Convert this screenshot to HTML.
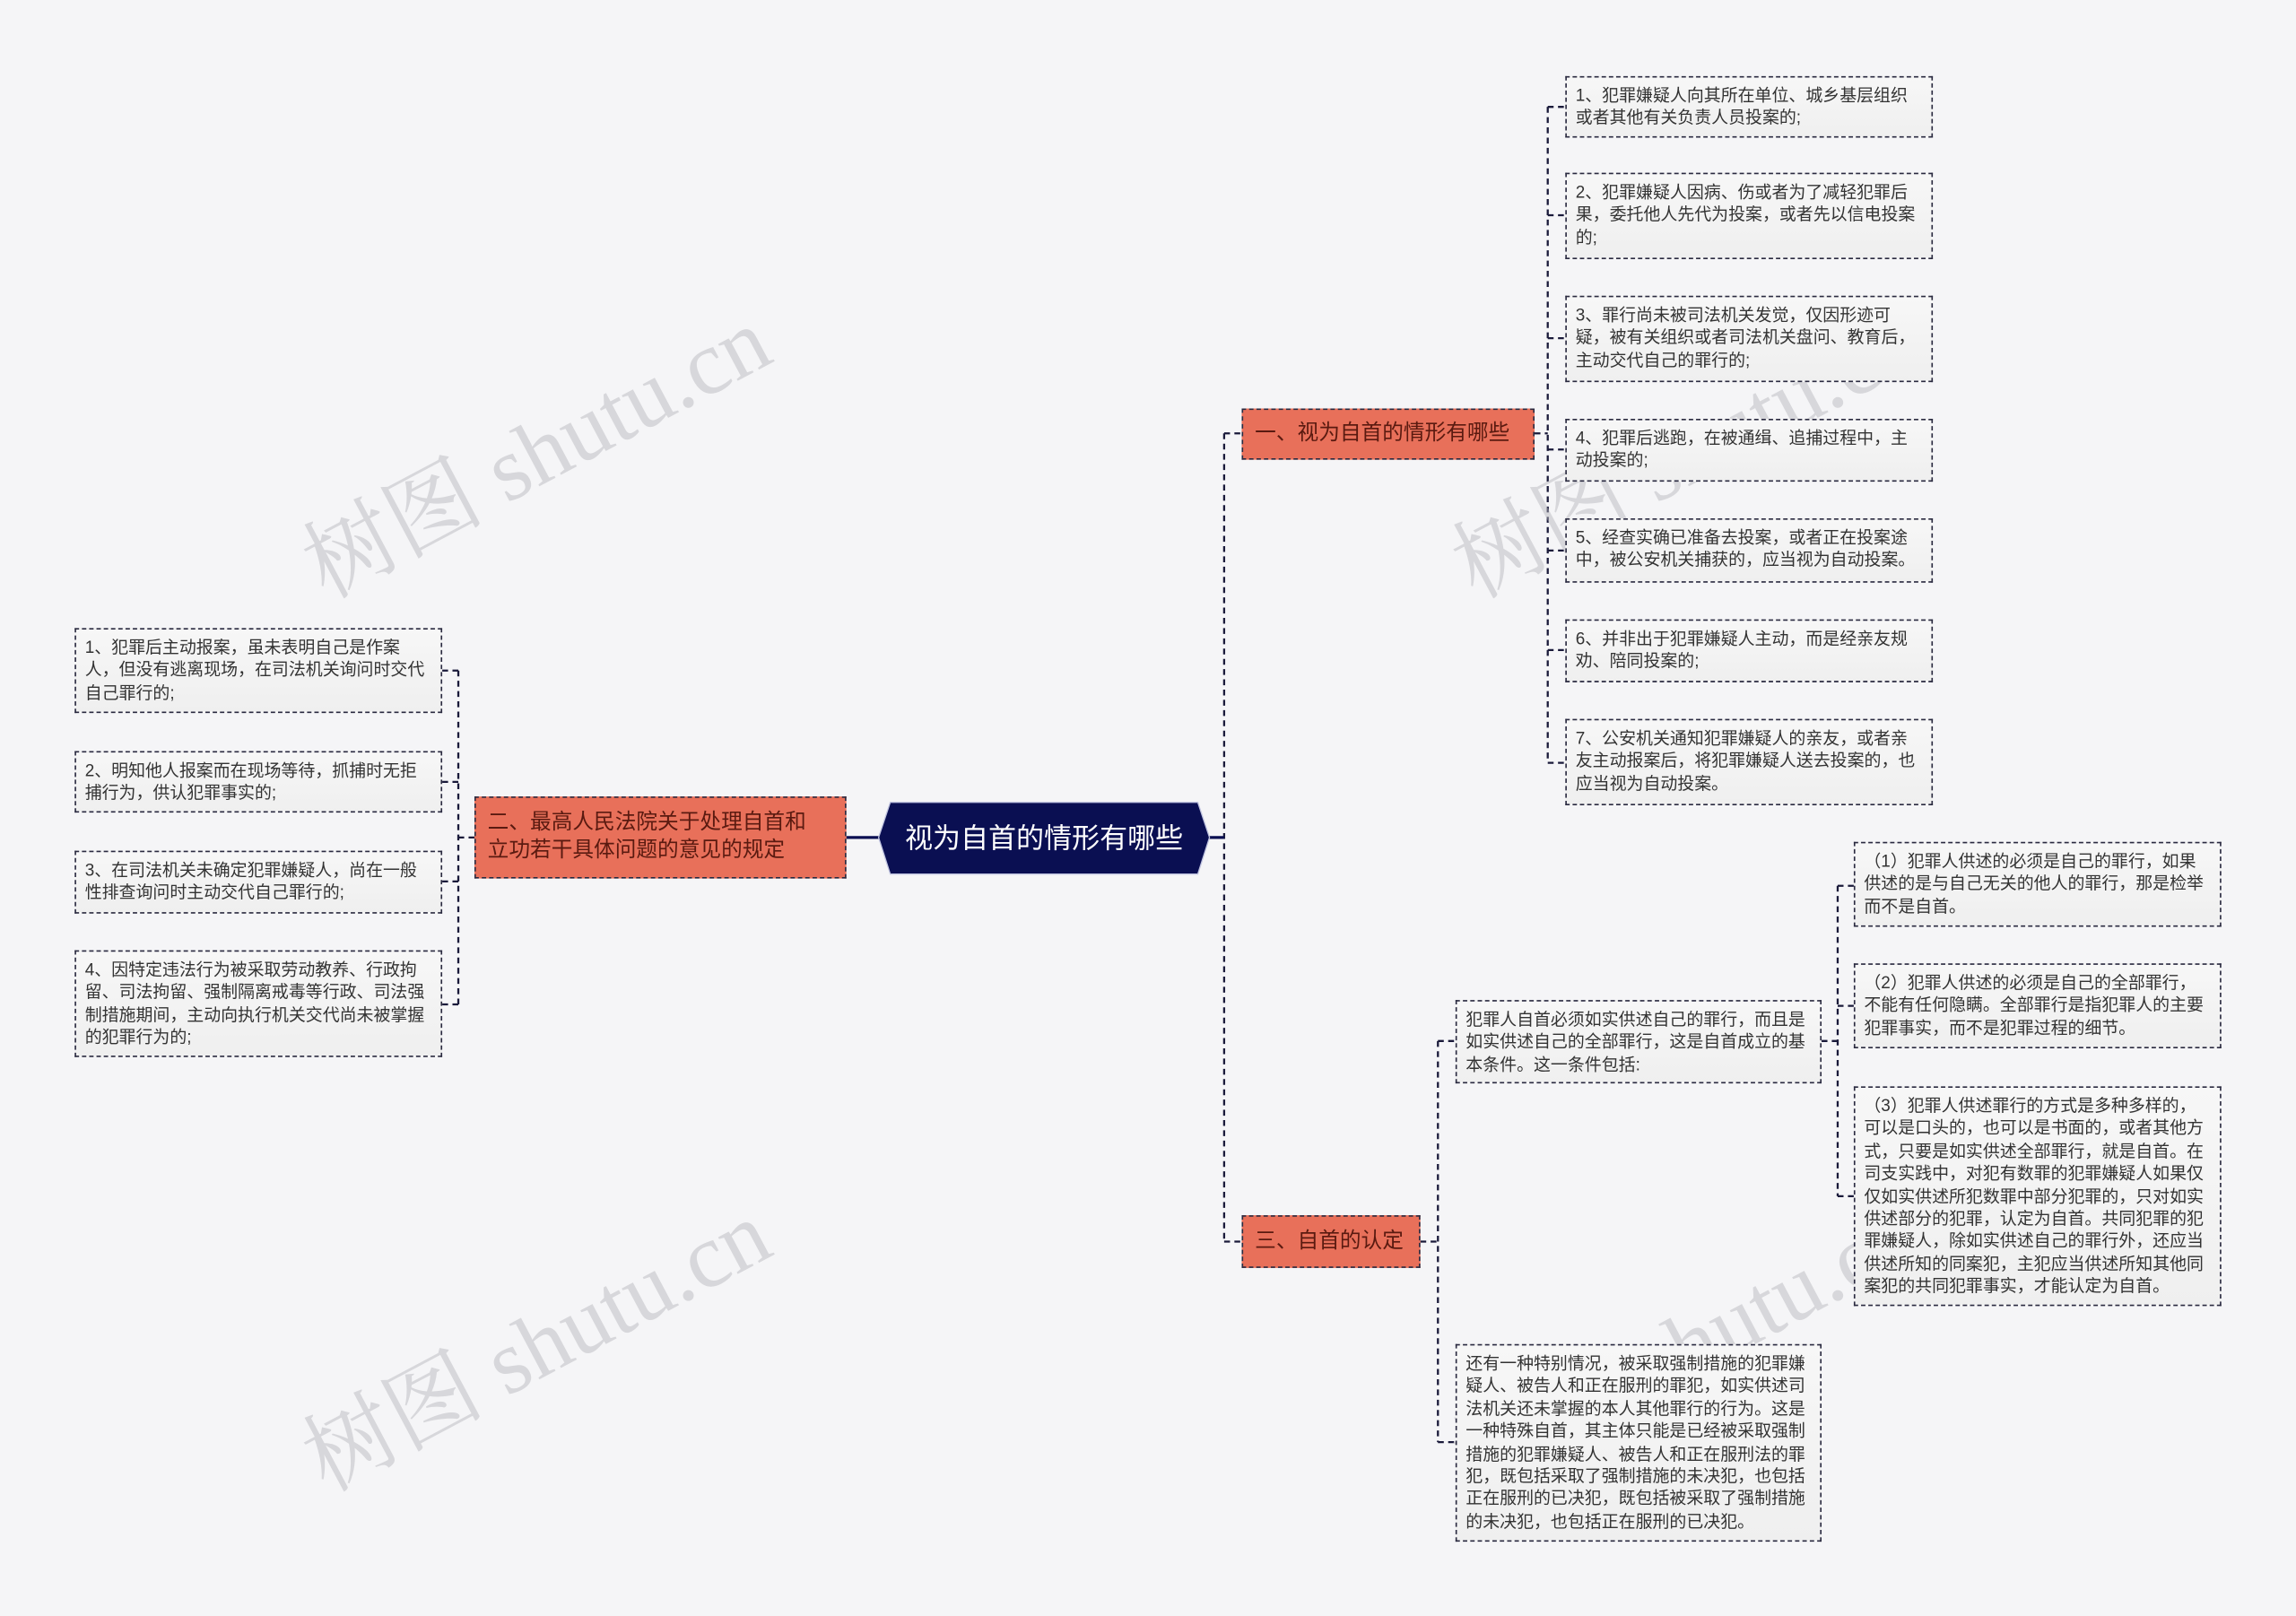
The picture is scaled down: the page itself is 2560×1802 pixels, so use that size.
<!DOCTYPE html>
<html><head><meta charset="utf-8">
<style>
html,body{margin:0;padding:0;background:#f5f5f7;}
body{width:2560px;height:1802px;overflow:hidden;position:relative;}
#w{position:absolute;left:0;top:0;width:1568px;height:1104px;transform:scale(1.63265);transform-origin:0 0;font-family:"Liberation Sans","Noto Sans CJK SC",sans-serif;}
.n{position:absolute;box-sizing:border-box;}
.leaf{border:1px dashed #2a2a40;background:linear-gradient(#f7f7f7,#efefef);font-size:11.6px;line-height:15.4px;color:#333;padding:5px 5px 5px 6px;}
.br{border:1px dashed #2a2a40;background:#e8705a;color:#5a1a10;font-size:14.5px;line-height:19px;padding:0 8px;display:flex;align-items:center;}
.wm{position:absolute;font-family:"Liberation Serif","Noto Serif CJK SC",serif;font-size:62px;color:rgba(180,180,185,0.45);transform:rotate(-28deg);white-space:nowrap;}
</style></head><body><div id="w">
<svg width="1568" height="1104" style="position:absolute;left:0;top:0">
<g stroke="#1a1a3a" stroke-width="1.4" fill="none" stroke-dasharray="4,3">
<path d="M836,296V848M836,296H848M836,848H848"/>
<path d="M1048,296H1057M1057,73V521M1057,73H1069M1057,147H1069M1057,231H1069M1057,307H1069M1057,376H1069M1057,444H1069M1057,521H1069"/>
<path d="M970,848H982M982,711V985M982,711H994M982,985H994"/>
<path d="M1244,711H1255M1255,605V817M1255,605H1266M1255,687H1266M1255,817H1266"/>
<path d="M324,572H313M313,458V686M313,458H302M313,534H302M313,602H302M313,686H302"/>
</g>
<g stroke="#0a0f52" stroke-width="2" fill="none">
<path d="M826,572H836M578,572H600"/>
</g>
<polygon points="608,548 818,548 826,572 818,597 608,597 600,572" fill="#0a0f52" stroke="#c0c4e0" stroke-width="0.8"/>
<text x="713" y="579" font-size="19" fill="#fff" text-anchor="middle" font-family="Liberation Sans,Noto Sans CJK SC,sans-serif">视为自首的情形有哪些</text>
</svg>

<div class="wm" style="left:190px;top:260px">树图 shutu.cn</div>
<div class="wm" style="left:975px;top:260px">树图 shutu.cn</div>
<div class="wm" style="left:190px;top:870px">树图 shutu.cn</div>
<div class="wm" style="left:975px;top:870px">树图 shutu.cn</div>

<div class="n br" style="left:848px;top:279px;width:200px;height:35px">一、视为自首的情形有哪些</div>
<div class="n br" style="left:848px;top:830px;width:122px;height:36px">三、自首的认定</div>
<div class="n br" style="left:324px;top:544px;width:254px;height:56px;padding:0 14px 0 8px">二、最高人民法院关于处理自首和立功若干具体问题的意见的规定</div>

<div class="n leaf" style="left:1069px;top:52px;width:251px;height:42px">1、犯罪嫌疑人向其所在单位、城乡基层组织或者其他有关负责人员投案的;</div>
<div class="n leaf" style="left:1069px;top:118px;width:251px;height:59px">2、犯罪嫌疑人因病、伤或者为了减轻犯罪后果，委托他人先代为投案，或者先以信电投案的;</div>
<div class="n leaf" style="left:1069px;top:202px;width:251px;height:59px">3、罪行尚未被司法机关发觉，仅因形迹可疑，被有关组织或者司法机关盘问、教育后，主动交代自己的罪行的;</div>
<div class="n leaf" style="left:1069px;top:286px;width:251px;height:43px">4、犯罪后逃跑，在被通缉、追捕过程中，主动投案的;</div>
<div class="n leaf" style="left:1069px;top:354px;width:251px;height:44px">5、经查实确已准备去投案，或者正在投案途中，被公安机关捕获的，应当视为自动投案。</div>
<div class="n leaf" style="left:1069px;top:423px;width:251px;height:43px">6、并非出于犯罪嫌疑人主动，而是经亲友规劝、陪同投案的;</div>
<div class="n leaf" style="left:1069px;top:491px;width:251px;height:59px">7、公安机关通知犯罪嫌疑人的亲友，或者亲友主动报案后，将犯罪嫌疑人送去投案的，也应当视为自动投案。</div>

<div class="n leaf" style="left:994px;top:683px;width:250px;height:57px">犯罪人自首必须如实供述自己的罪行，而且是如实供述自己的全部罪行，这是自首成立的基本条件。这一条件包括:</div>
<div class="n leaf" style="left:994px;top:918px;width:250px;height:135px">还有一种特别情况，被采取强制措施的犯罪嫌疑人、被告人和正在服刑的罪犯，如实供述司法机关还未掌握的本人其他罪行的行为。这是一种特殊自首，其主体只能是已经被采取强制措施的犯罪嫌疑人、被告人和正在服刑法的罪犯，既包括采取了强制措施的未决犯，也包括正在服刑的已决犯，既包括被采取了强制措施的未决犯，也包括正在服刑的已决犯。</div>

<div class="n leaf" style="left:1266px;top:575px;width:251px;height:58px">（1）犯罪人供述的必须是自己的罪行，如果供述的是与自己无关的他人的罪行，那是检举而不是自首。</div>
<div class="n leaf" style="left:1266px;top:658px;width:251px;height:58px">（2）犯罪人供述的必须是自己的全部罪行，不能有任何隐瞒。全部罪行是指犯罪人的主要犯罪事实，而不是犯罪过程的细节。</div>
<div class="n leaf" style="left:1266px;top:742px;width:251px;height:150px">（3）犯罪人供述罪行的方式是多种多样的，可以是口头的，也可以是书面的，或者其他方式，只要是如实供述全部罪行，就是自首。在司支实践中，对犯有数罪的犯罪嫌疑人如果仅仅如实供述所犯数罪中部分犯罪的，只对如实供述部分的犯罪，认定为自首。共同犯罪的犯罪嫌疑人，除如实供述自己的罪行外，还应当供述所知的同案犯，主犯应当供述所知其他同案犯的共同犯罪事实，才能认定为自首。</div>

<div class="n leaf" style="left:51px;top:429px;width:251px;height:58px">1、犯罪后主动报案，虽未表明自己是作案人，但没有逃离现场，在司法机关询问时交代自己罪行的;</div>
<div class="n leaf" style="left:51px;top:513px;width:251px;height:42px">2、明知他人报案而在现场等待，抓捕时无拒捕行为，供认犯罪事实的;</div>
<div class="n leaf" style="left:51px;top:581px;width:251px;height:43px">3、在司法机关未确定犯罪嫌疑人，尚在一般性排查询问时主动交代自己罪行的;</div>
<div class="n leaf" style="left:51px;top:649px;width:251px;height:73px">4、因特定违法行为被采取劳动教养、行政拘留、司法拘留、强制隔离戒毒等行政、司法强制措施期间，主动向执行机关交代尚未被掌握的犯罪行为的;</div>
</div></body></html>
